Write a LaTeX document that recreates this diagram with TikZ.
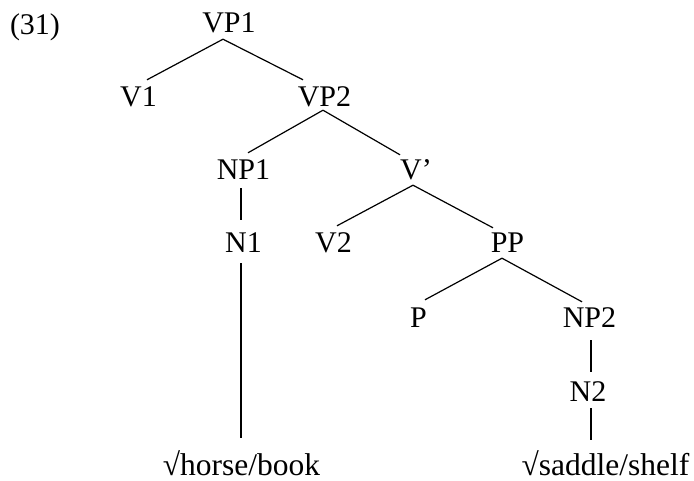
\documentclass[tikz,border=0pt]{standalone}
\usepackage{fontspec}
\setmainfont{Liberation Serif}
\begin{document}
\begin{tikzpicture}[x=1pt,y=-1pt,
  lab/.style={anchor=base,font=\fontsize{30}{32}\selectfont,inner xsep=0pt,inner ysep=6pt,text height=21pt,text depth=0pt},
  rootlab/.style={lab,font=\fontsize{31.5}{34}\selectfont,text height=29pt},
  edge/.style={draw,line width=1.2pt}]
\useasboundingbox (0,0) rectangle (694,481);
\node[lab] (ex) at (35,35) {(31)};
\node[lab] (VP1) at (229,33) {VP1};
\node[lab] (V1) at (138.5,107) {V1};
\node[lab] (VP2) at (324.5,107) {VP2};
\node[lab] (NP1) at (243.5,180) {NP1};
\node[lab] (Vb) at (416,180) {V’};
\node[lab] (N1) at (243.5,253) {N1};
\node[lab] (V2) at (333.5,253) {V2};
\node[lab] (PP) at (507.5,253) {PP};
\node[lab] (P) at (418.5,327) {P};
\node[lab] (NP2) at (589.5,327) {NP2};
\node[lab] (N2) at (588,401) {N2};
\node[rootlab] (R1) at (241.5,475) {√horse/book};
\node[rootlab] (R2) at (605.5,475) {√saddle/shelf};
\draw[edge] ([xshift=-6pt]VP1.south) -- ([xshift=8.5pt]V1.north);
\draw[edge] ([xshift=-6pt]VP1.south) -- ([xshift=-21.5pt]VP2.north);
\draw[edge] ([xshift=-1.5pt,yshift=3pt]VP2.south) -- ([xshift=4.5pt]NP1.north);
\draw[edge] ([xshift=-1.5pt,yshift=3pt]VP2.south) -- ([xshift=-16pt,yshift=-2pt]Vb.north);
\draw[edge] ([xshift=-2.5pt,yshift=-2pt]NP1.south) -- ([xshift=-2.5pt,yshift=6pt]N1.north);
\draw[edge] ([xshift=-3pt,yshift=1pt]Vb.south) -- ([xshift=3.5pt]V2.north);
\draw[edge] ([xshift=-3pt,yshift=1pt]Vb.south) -- ([xshift=-14.5pt,yshift=-2pt]PP.north);
\draw[edge] ([xshift=-2.5pt,yshift=-4pt]N1.south) -- ([xshift=-0.5pt,yshift=2pt]R1.north);
\draw[edge] ([xshift=-5.5pt,yshift=1pt]PP.south) -- ([xshift=6.5pt]P.north);
\draw[edge] ([xshift=-5.5pt,yshift=1pt]PP.south) -- ([xshift=-7.5pt,yshift=-2pt]NP2.north);
\draw[edge] ([xshift=1.5pt,yshift=-7pt]NP2.south) -- ([xshift=3pt,yshift=2pt]N2.north);
\draw[edge] ([xshift=3pt,yshift=-1pt]N2.south) -- ([xshift=-14.5pt]R2.north);
\end{tikzpicture}
\end{document}
